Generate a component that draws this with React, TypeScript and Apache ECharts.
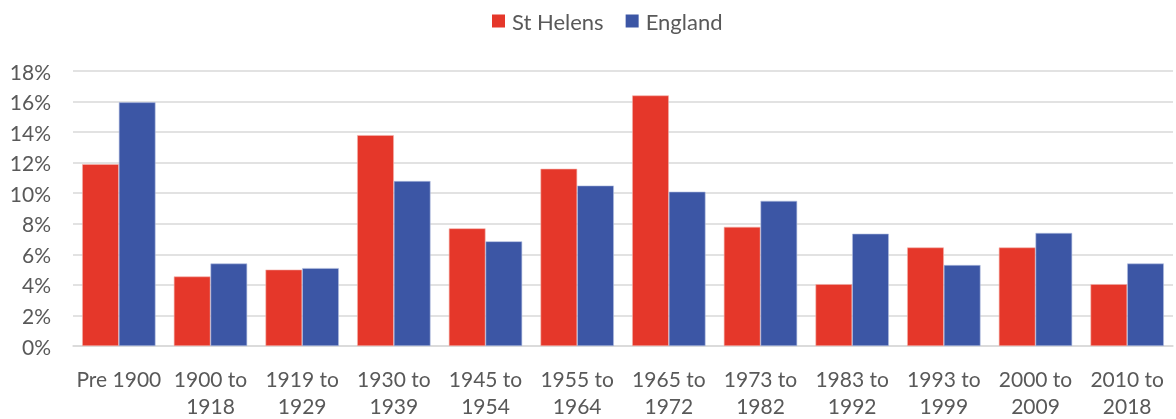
import React, { useEffect, useRef } from "react";
import * as echarts from "echarts";

const categories = [
  "Pre 1900",
  "1900 to\n1918",
  "1919 to\n1929",
  "1930 to\n1939",
  "1945 to\n1954",
  "1955 to\n1964",
  "1965 to\n1972",
  "1973 to\n1982",
  "1983 to\n1992",
  "1993 to\n1999",
  "2000 to\n2009",
  "2010 to\n2018",
];
const stHelens = [11.9, 4.55, 5.0, 13.8, 7.7, 11.6, 16.4, 7.8, 4.05, 6.45, 6.45, 4.05];
const england = [15.95, 5.4, 5.1, 10.8, 6.85, 10.5, 10.1, 9.5, 7.35, 5.3, 7.4, 5.4];
const yTicks = { min: 0, max: 18, interval: 2 };

const FONT = "Lato, 'Open Sans', sans-serif";
const TEXT = "#595959";

export default function App() {
  const ref = useRef<HTMLDivElement>(null);
  useEffect(() => {
    if (!ref.current) return;
    const chart = echarts.init(ref.current, undefined, { renderer: "svg" });
    chart.setOption({
      animation: false,
      textStyle: { fontFamily: FONT },
      legend: {
        top: 5,
        left: 487,
        itemWidth: 13,
        itemHeight: 13,
        itemGap: 22,
        icon: "rect",
        itemStyle: { borderWidth: 0 },
        textStyle: { fontSize: 22, color: TEXT, fontFamily: FONT, padding: [0, 0, 0, 2] },
        data: ["St Helens", "England"],
      },
      grid: { left: 73, right: 3, top: 71, bottom: 73, containLabel: false },
      xAxis: {
        type: "category",
        data: categories,
        axisLine: { lineStyle: { color: "#d9d9d9", width: 1.5 } },
        axisTick: { show: false },
        axisLabel: {
          color: TEXT,
          fontSize: 21,
          fontFamily: FONT,
          lineHeight: 27,
          margin: 19,
          interval: 0,
        },
      },
      yAxis: {
        type: "value",
        min: yTicks.min,
        max: yTicks.max,
        interval: yTicks.interval,
        axisLine: { show: false },
        axisTick: { show: false },
        splitLine: { lineStyle: { color: "#d9d9d9", width: 1.5 } },
        axisLabel: {
          color: TEXT,
          fontSize: 21,
          fontFamily: FONT,
          margin: 22,
          formatter: (v: number) => `${v}%`,
        },
      },
      series: [
        {
          name: "St Helens",
          type: "bar",
          data: stHelens,
          barGap: "0%",
          barCategoryGap: "20%",
          itemStyle: { color: "#E5372A", borderColor: "#f4b3ad", borderWidth: 0.6 },
        },
        {
          name: "England",
          type: "bar",
          data: england,
          itemStyle: { color: "#3C56A5", borderColor: "#b4bfe0", borderWidth: 0.6 },
        },
      ],
    });
    return () => chart.dispose();
  }, []);
  return (
    <div
      ref={ref}
      style={{ position: "fixed", left: 0, top: 0, width: 1176, height: 419 }}
    />
  );
}
